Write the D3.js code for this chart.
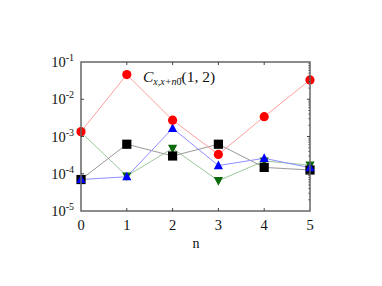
<!DOCTYPE html>
<html>
<head>
<meta charset="utf-8">
<script src="https://cdn.jsdelivr.net/npm/d3@7"></script>
<style>
  body { margin: 0; background: #fff; }
  text { font-family: "Liberation Serif", "DejaVu Serif", serif; }
</style>
</head>
<body>
<svg id="chart" width="382" height="286"></svg>
<script>
var ns = [0, 1, 2, 3, 4, 5];
var red = [1.35e-3, 4.6e-2, 2.75e-3, 3.3e-4, 3.4e-3, 3.3e-2];
var black = [7e-5, 6.2e-4, 3.0e-4, 6.2e-4, 1.48e-4, 1.26e-4];
var blue = [7e-5, 8.3e-5, 1.66e-3, 1.66e-4, 2.6e-4, 1.45e-4];
var green = [1.3e-3, 8.7e-5, 4.8e-4, 6.5e-5, 2.2e-4, 1.7e-4];
var yTicks = [1e-5, 1e-4, 1e-3, 1e-2, 1e-1];
var yExps = ["-5", "-4", "-3", "-2", "-1"];

var svg = d3.select("#chart");
var L = 81, R = 310, T = 62, B = 211;

var x = d3.scaleLinear().domain([0, 5]).range([L, R]);
var y = d3.scaleLog().domain([1e-5, 1e-1]).range([B, T]);

// lines first, markers on top
var series = [
  {vals: green, line: "#9cc79c", fill: "#0a6a0a", shape: "tdown"},
  {vals: black, line: "#999999", fill: "#000000", shape: "square"},
  {vals: blue, line: "#8f8fff", fill: "#0000ff", shape: "tup"},
  {vals: red, line: "#ff9f9f", fill: "#ff0000", shape: "circle"}
];

var line = d3.line()
  .x(function(d, i) { return x(ns[i]); })
  .y(function(d) { return y(d); });

series.forEach(function(s) {
  svg.append("path")
    .attr("d", line(s.vals))
    .attr("fill", "none")
    .attr("stroke", s.line)
    .attr("stroke-width", 1);
});

function shapePath(shape, cx, cy) {
  var h = 4.6;
  if (shape == "square")
    return "M" + (cx - h) + "," + (cy - h) + "h" + 2 * h + "v" + 2 * h + "h" + (-2 * h) + "Z";
  if (shape == "tup")
    return "M" + cx + "," + (cy - h - 0.5) + "L" + (cx + h) + "," + (cy + h - 1) + "L" + (cx - h) + "," + (cy + h - 1) + "Z";
  if (shape == "tdown")
    return "M" + cx + "," + (cy + h + 0.5) + "L" + (cx + h) + "," + (cy - h + 1) + "L" + (cx - h) + "," + (cy - h + 1) + "Z";
  return null;
}

series.forEach(function(s) {
  s.vals.forEach(function(v, i) {
    if (s.shape == "circle") {
      svg.append("circle")
        .attr("cx", x(ns[i])).attr("cy", y(v))
        .attr("r", 4.6)
        .attr("fill", s.fill);
    } else {
      svg.append("path")
        .attr("d", shapePath(s.shape, x(ns[i]), y(v)))
        .attr("fill", s.fill);
    }
  });
});

// frame
svg.append("rect")
  .attr("x", L).attr("y", T)
  .attr("width", R - L).attr("height", B - T)
  .attr("fill", "none")
  .attr("stroke", "#666")
  .attr("stroke-width", 1.5);

var axisCol = "#444";
// x ticks, bottom and top
ns.forEach(function(n) {
  if (n == 0 || n == 5) return;
  svg.append("line").attr("x1", x(n)).attr("x2", x(n))
    .attr("y1", B).attr("y2", B - 3).attr("stroke", axisCol);
  svg.append("line").attr("x1", x(n)).attr("x2", x(n))
    .attr("y1", T).attr("y2", T + 3).attr("stroke", axisCol);
});

// y ticks
yTicks.forEach(function(t) {
  if (t == 1e-5 || t == 1e-1) return;
  svg.append("line").attr("x1", L).attr("x2", L + 3)
    .attr("y1", y(t)).attr("y2", y(t)).attr("stroke", axisCol);
  svg.append("line").attr("x1", R).attr("x2", R - 3)
    .attr("y1", y(t)).attr("y2", y(t)).attr("stroke", axisCol);
});
// minor ticks on right
yTicks.slice(0, -1).forEach(function(t) {
  for (var k = 2; k < 10; k++) {
    svg.append("line").attr("x1", R).attr("x2", R - 1.8)
      .attr("y1", y(t * k)).attr("y2", y(t * k))
      .attr("stroke", axisCol).attr("stroke-width", 0.7);
  }
});

// x tick labels
svg.selectAll(".xl").data(ns).enter().append("text")
  .attr("class", "xl")
  .attr("x", function(d) { return x(d); })
  .attr("y", 230)
  .attr("text-anchor", "middle")
  .attr("font-size", 14.5)
  .attr("fill", "#111")
  .text(function(d) { return d; });

// y tick labels
yTicks.forEach(function(t, i) {
  var g = svg.append("text")
    .attr("x", L - 7)
    .attr("y", y(t) + 5)
    .attr("text-anchor", "end")
    .attr("font-size", 14.5)
    .attr("fill", "#111");
  g.append("tspan").text("10");
  g.append("tspan").attr("dy", -6).attr("font-size", 10).text(yExps[i]);
});

// axis title
svg.append("text")
  .attr("x", 196).attr("y", 248)
  .attr("text-anchor", "middle")
  .attr("font-size", 14)
  .attr("fill", "#111")
  .text("n");

// key label
var lab = svg.append("text")
  .attr("x", 143).attr("y", 82)
  .attr("font-size", 15.5)
  .attr("fill", "#111");
lab.append("tspan").attr("font-style", "italic").text("C");
lab.append("tspan").attr("font-style", "italic").attr("font-size", 10).attr("dy", 3).text("x,x+n");
lab.append("tspan").attr("font-size", 10).text("0\u0302");
lab.append("tspan").attr("dy", -3).text("(1, 2)");
</script>
</body>
</html>
